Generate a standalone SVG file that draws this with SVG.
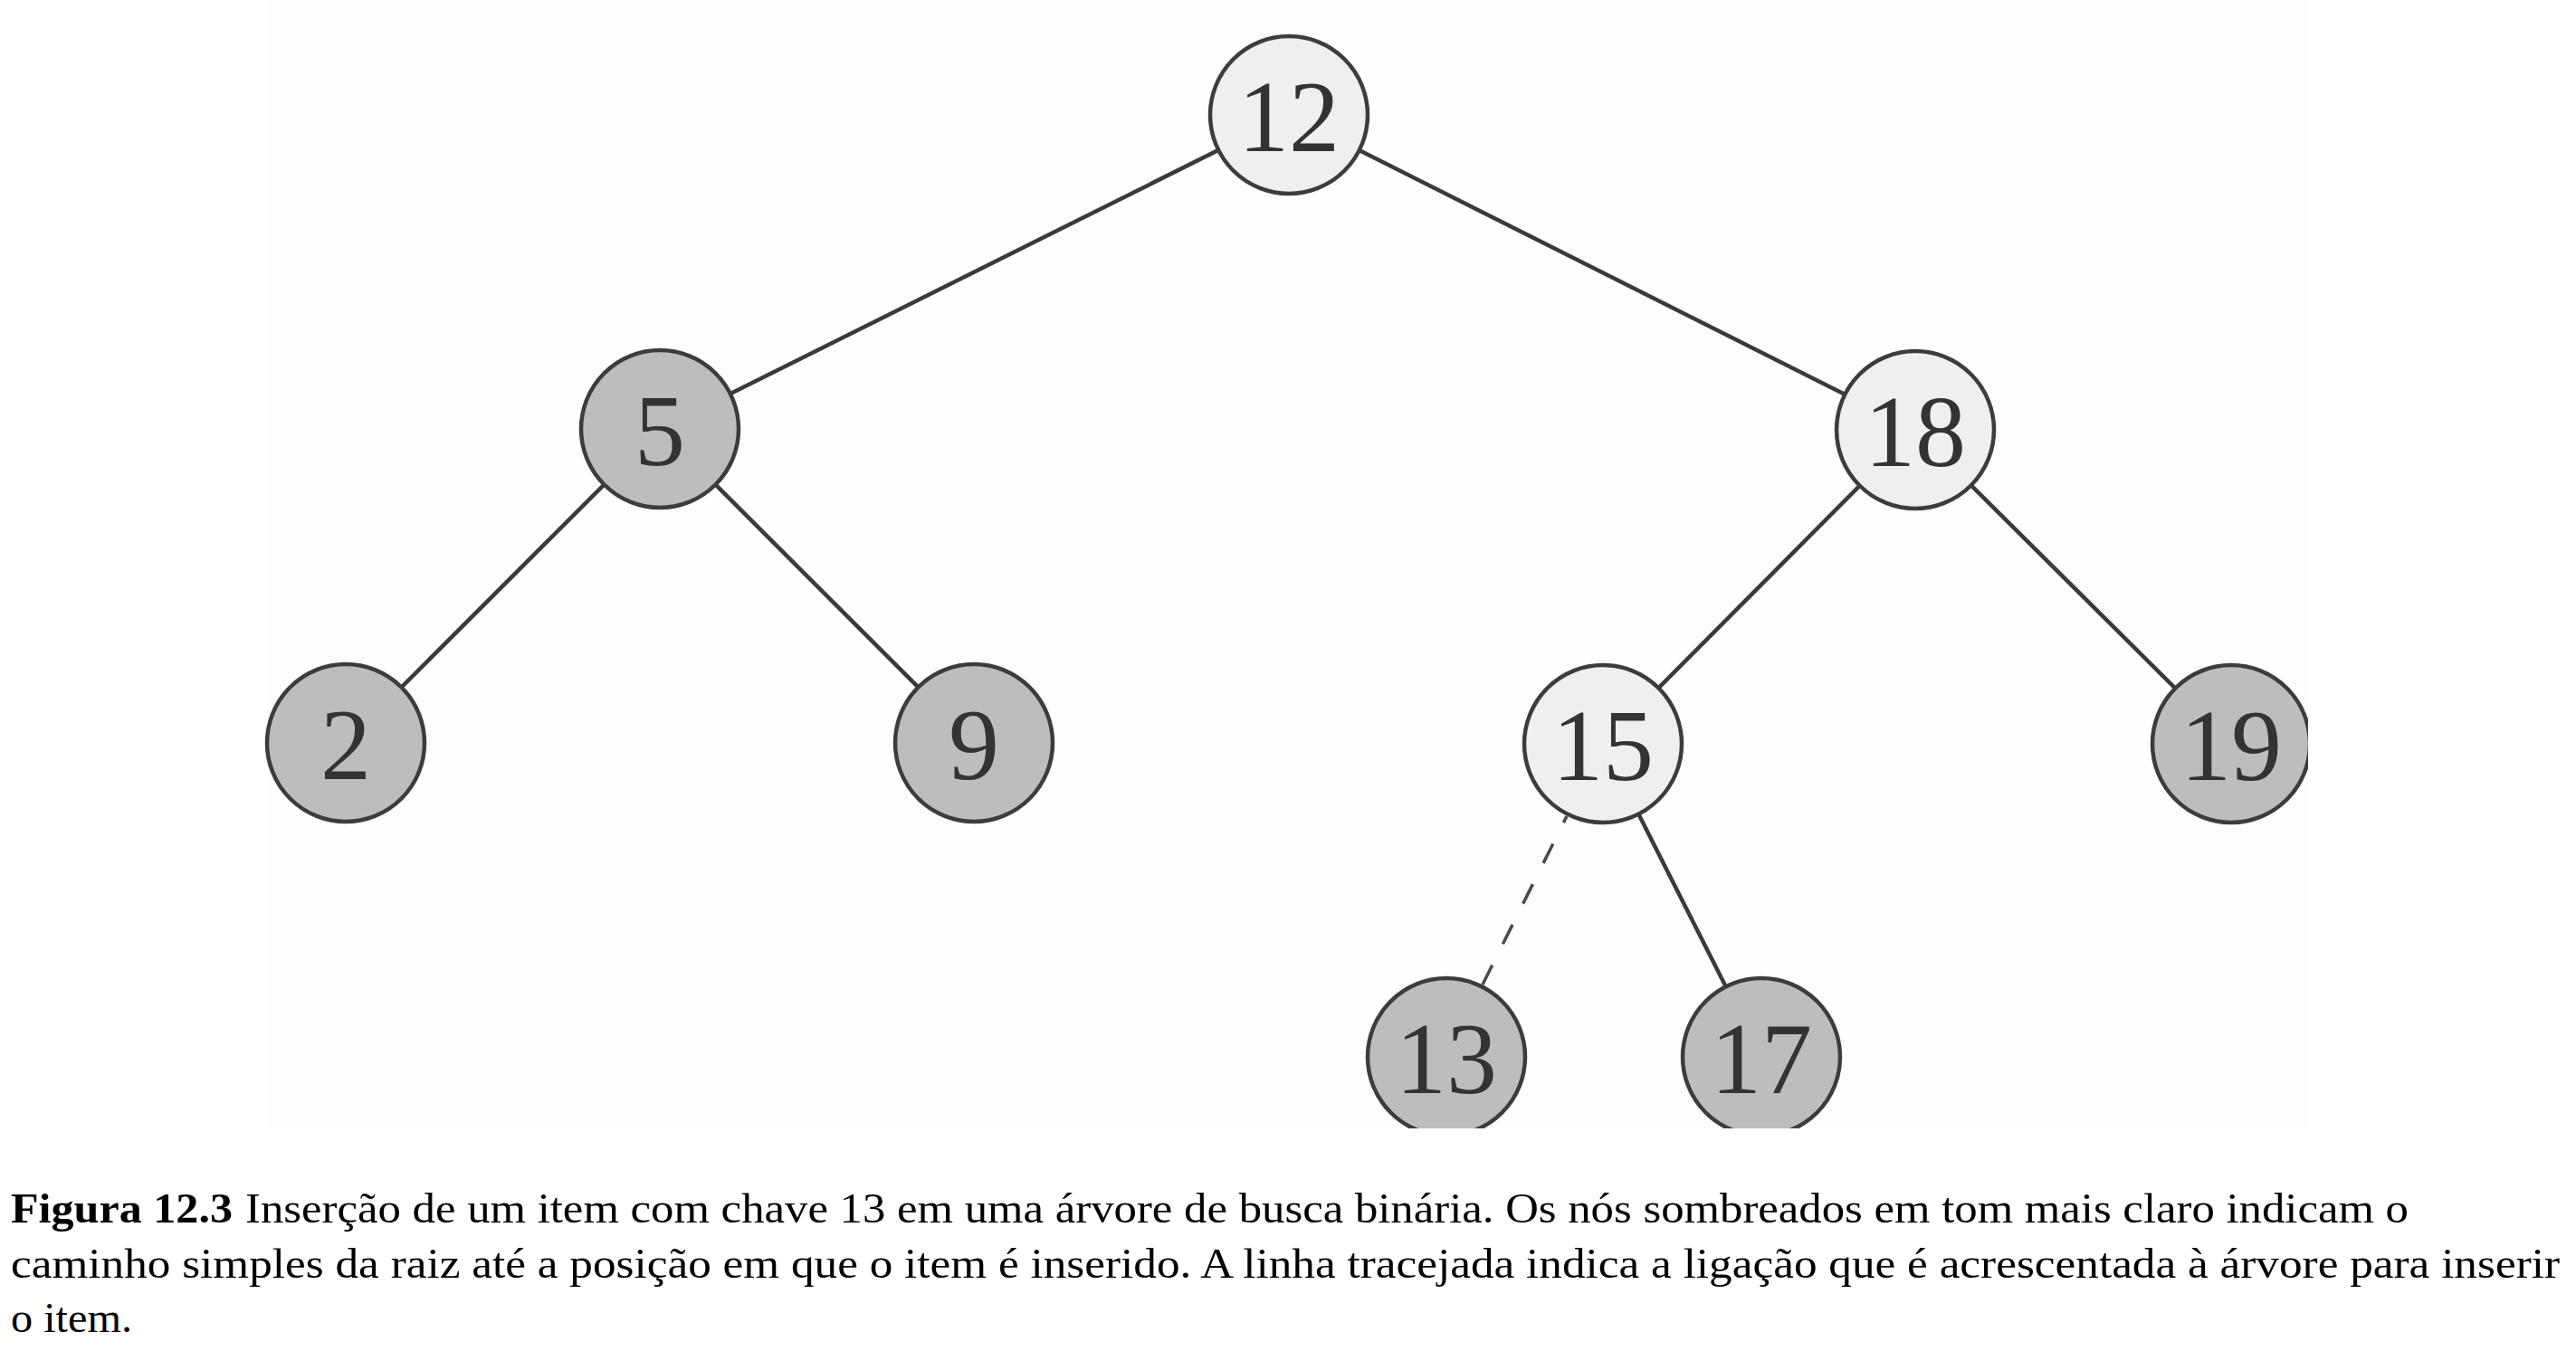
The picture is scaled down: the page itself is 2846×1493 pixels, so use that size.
<svg xmlns="http://www.w3.org/2000/svg" width="2846" height="1493" viewBox="0 0 2846 1493">
  <defs>
    <style>
      .edge { stroke: #3a3a3a; stroke-width: 4.5; fill: none; stroke-linecap: round; }
      .dashed { stroke: #4a4a4a; stroke-width: 3.5; fill: none; stroke-dasharray: 24 26; stroke-dashoffset: 16; }
      .light { fill: #efefef; stroke: #3c3c3c; stroke-width: 4.5; }
      .dark { fill: #bdbdbd; stroke: #3c3c3c; stroke-width: 4.5; }
      .num { font-family: "Liberation Serif", "Times New Roman", serif; font-size: 112px; fill: #333333; text-anchor: middle; }
      .cap { font-family: "Liberation Serif", "Times New Roman", serif; font-size: 47px; fill: #000000; }
      .capb { font-family: "Liberation Serif", "Times New Roman", serif; font-size: 47px; font-weight: bold; fill: #000000; }
    </style>
    <clipPath id="figclip">
      <rect x="290" y="0" width="2260" height="1247"/>
    </clipPath>
  </defs>
  <rect x="0" y="0" width="2846" height="1493" fill="#ffffff"/>
  <g id="figure" clip-path="url(#figclip)">
    <rect x="296" y="0" width="2254" height="1247" fill="#fdfdfd"/>
    <g id="connectors">
      <line class="edge" x1="1424" y1="127" x2="729" y2="474"/>
      <line class="edge" x1="1424" y1="127" x2="2116" y2="475"/>
      <line class="edge" x1="729" y1="474" x2="382" y2="821"/>
      <line class="edge" x1="729" y1="474" x2="1076" y2="821"/>
      <line class="edge" x1="2116" y1="475" x2="1771" y2="822"/>
      <line class="edge" x1="2116" y1="475" x2="2465" y2="822"/>
      <line class="edge" x1="1771" y1="822" x2="1946" y2="1168"/>
      <line class="dashed" x1="1731" y1="902" x2="1638" y2="1088"/>
    </g>
    <g id="node-12">
      <circle class="light" cx="1424" cy="127" r="87"/>
      <text class="num" x="1424" y="167">12</text>
    </g>
    <g id="node-5">
      <circle class="dark" cx="729" cy="474" r="87"/>
      <text class="num" x="729" y="514">5</text>
    </g>
    <g id="node-18">
      <circle class="light" cx="2116" cy="475" r="87"/>
      <text class="num" x="2116" y="515">18</text>
    </g>
    <g id="node-2">
      <circle class="dark" cx="382" cy="821" r="87"/>
      <text class="num" x="382" y="861">2</text>
    </g>
    <g id="node-9">
      <circle class="dark" cx="1076" cy="821" r="87"/>
      <text class="num" x="1076" y="861">9</text>
    </g>
    <g id="node-15">
      <circle class="light" cx="1771" cy="822" r="87"/>
      <text class="num" x="1771" y="862">15</text>
    </g>
    <g id="node-19">
      <circle class="dark" cx="2465" cy="822" r="87"/>
      <text class="num" x="2465" y="862">19</text>
    </g>
    <g id="node-13">
      <circle class="dark" cx="1598" cy="1168" r="87"/>
      <text class="num" x="1598" y="1208">13</text>
    </g>
    <g id="node-17">
      <circle class="dark" cx="1946" cy="1168" r="87"/>
      <text class="num" x="1946" y="1208">17</text>
    </g>
  </g>
  <g id="caption">
    <text class="capb" x="12" y="1351" textLength="245" lengthAdjust="spacingAndGlyphs">Figura 12.3</text>
    <text class="cap" x="271" y="1351" textLength="2390" lengthAdjust="spacingAndGlyphs">Inserção de um item com chave 13 em uma árvore de busca binária. Os nós sombreados em tom mais claro indicam o</text>
    <text class="cap" x="12" y="1412" textLength="2816" lengthAdjust="spacingAndGlyphs">caminho simples da raiz até a posição em que o item é inserido. A linha tracejada indica a ligação que é acrescentada à árvore para inserir</text>
    <text class="cap" x="12" y="1472" textLength="134" lengthAdjust="spacingAndGlyphs">o item.</text>
  </g>
</svg>
